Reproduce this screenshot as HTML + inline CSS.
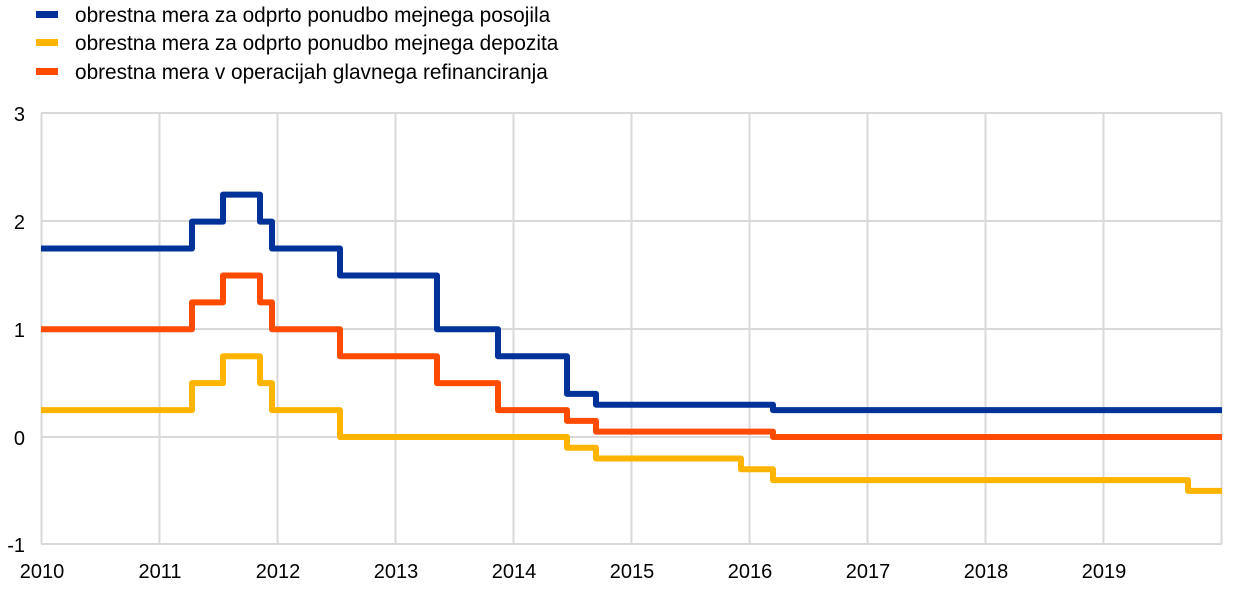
<!DOCTYPE html>
<html><head><meta charset="utf-8"><style>
html,body{margin:0;padding:0;background:#fff;}
svg{display:block;font-family:"Liberation Sans",sans-serif;}
</style></head><body>
<svg id="c" width="1240" height="590" xmlns="http://www.w3.org/2000/svg">
<g stroke="#d9d9d9" stroke-width="2" fill="none">
<line x1="41" y1="113" x2="1222" y2="113"/>
<line x1="41" y1="221" x2="1222" y2="221"/>
<line x1="41" y1="329" x2="1222" y2="329"/>
<line x1="41" y1="437" x2="1222" y2="437"/>
<line x1="41" y1="544" x2="1222" y2="544"/>
<line x1="41.5" y1="113" x2="41.5" y2="544"/>
<line x1="159.5" y1="113" x2="159.5" y2="544"/>
<line x1="277.5" y1="113" x2="277.5" y2="544"/>
<line x1="395.5" y1="113" x2="395.5" y2="544"/>
<line x1="513.5" y1="113" x2="513.5" y2="544"/>
<line x1="631.5" y1="113" x2="631.5" y2="544"/>
<line x1="749.5" y1="113" x2="749.5" y2="544"/>
<line x1="867.5" y1="113" x2="867.5" y2="544"/>
<line x1="985.5" y1="113" x2="985.5" y2="544"/>
<line x1="1103.5" y1="113" x2="1103.5" y2="544"/>
<line x1="1221.5" y1="113" x2="1221.5" y2="544"/>
</g>
<g font-size="20" fill="#000" text-anchor="end">
<text x="25" y="121">3</text><text x="25" y="229">2</text><text x="25" y="337">1</text><text x="25" y="445">0</text><text x="25" y="552">-1</text>
</g>
<g font-size="20" fill="#000" text-anchor="middle">
<text x="42" y="578">2010</text><text x="160" y="578">2011</text><text x="278" y="578">2012</text><text x="396" y="578">2013</text><text x="514" y="578">2014</text><text x="632" y="578">2015</text><text x="750" y="578">2016</text><text x="868" y="578">2017</text><text x="986" y="578">2018</text><text x="1104" y="578">2019</text>
</g>
<g id="series" fill="none" stroke-width="6" stroke-linejoin="round"></g>
<rect x="36" y="11" width="22" height="7" fill="#003299"/>
<rect x="36" y="39" width="22" height="7" fill="#ffb400"/>
<rect x="36" y="68" width="22" height="7" fill="#ff4b00"/>
<g font-size="20.8" fill="#000">
<text x="75" y="22">obrestna mera za odprto ponudbo mejnega posojila</text>
<text x="75" y="50">obrestna mera za odprto ponudbo mejnega depozita</text>
<text x="75" y="79">obrestna mera v operacijah glavnega refinanciranja</text>
</g>
</svg>
<script>
function pts(steps){var y=v=>437-107.7*v;var x=41,s=[];steps.forEach(function(p){s.push(x+","+y(p[0]));s.push(p[1]+","+y(p[0]));x=p[1];});return s.join(" ");}
var S=[
["#ffb400",[[0.25,192],[0.5,223],[0.75,260],[0.5,272],[0.25,340],[0,567],[-0.1,596],[-0.2,741],[-0.3,773],[-0.4,1188],[-0.5,1222]]],
["#ff4b00",[[1,192],[1.25,223],[1.5,260],[1.25,272],[1,340],[0.75,437],[0.5,498],[0.25,567],[0.15,596],[0.05,773],[0,1222]]],
["#003299",[[1.75,192],[2,223],[2.25,260],[2,272],[1.75,340],[1.5,437],[1,498],[0.75,567],[0.4,596],[0.3,773],[0.25,1222]]]
];
var g=document.getElementById("series"),h="";
S.forEach(function(s){h+='<polyline stroke="'+s[0]+'" points="'+pts(s[1])+'"/>';});
g.innerHTML=h;
</script>
</body></html>
